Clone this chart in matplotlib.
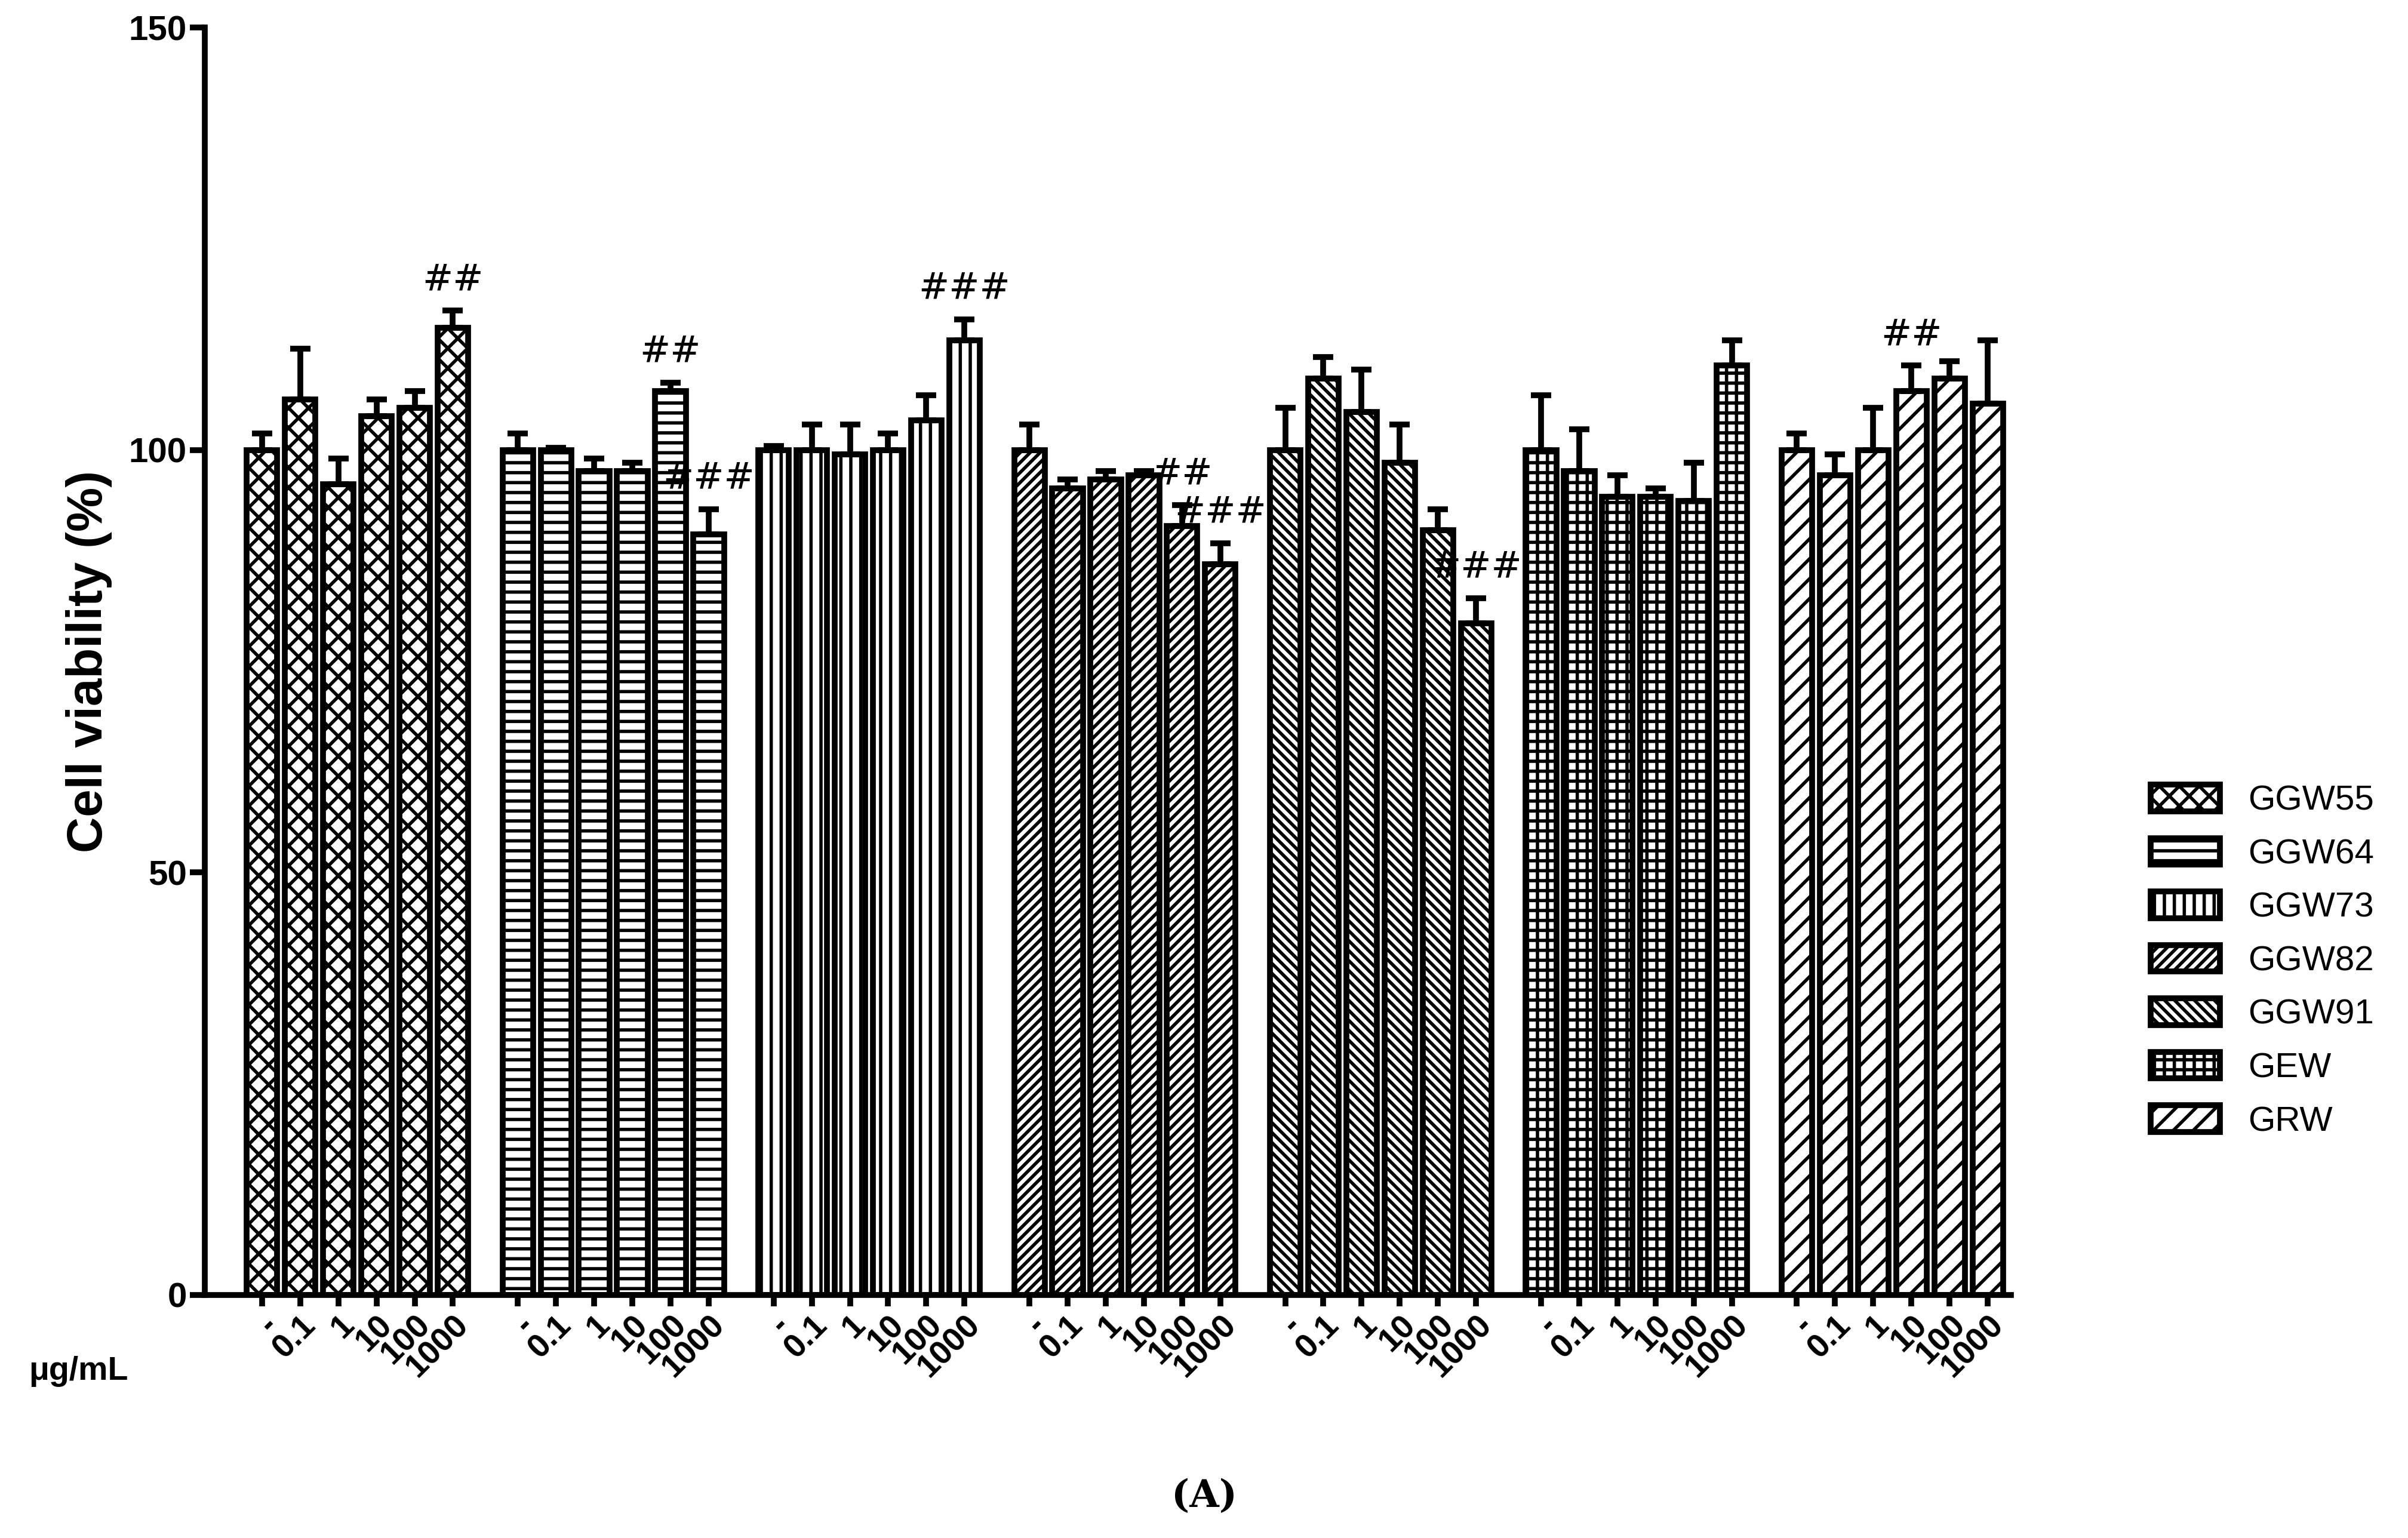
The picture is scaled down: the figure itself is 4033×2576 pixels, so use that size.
import matplotlib
matplotlib.use("Agg")
import matplotlib.pyplot as plt
from matplotlib.patches import Patch
import numpy as np

plt.rcParams['hatch.linewidth'] = 4
plt.rcParams['font.family'] = ['Liberation Sans', 'DejaVu Sans']
groups = ["GGW55", "GGW64", "GGW73", "GGW82", "GGW91", "GEW", "GRW"]
doses = ["-", "0.1", "1", "10", "100", "1000"]
means = {
    "GGW55": [100, 106, 96, 104, 105, 114.5],
    "GGW64": [100, 100, 97.5, 97.5, 107, 90],
    "GGW73": [100, 100, 99.5, 100, 103.5, 113],
    "GGW82": [100, 95.5, 96.5, 97, 91, 86.5],
    "GGW91": [100, 108.5, 104.5, 98.5, 90.5, 79.5],
    "GEW":   [100, 97.5, 94.5, 94.5, 94, 110],
    "GRW":   [100, 97, 100, 107, 108.5, 105.5],
}
errs = {
    "GGW55": [2, 6, 3, 2, 2, 2],
    "GGW64": [2, 0.3, 1.5, 1, 1, 3],
    "GGW73": [0.5, 3, 3.5, 2, 3, 2.5],
    "GGW82": [3, 1, 1, 0.5, 2.5, 2.5],
    "GGW91": [5, 2.5, 5, 4.5, 2.5, 3],
    "GEW":   [6.5, 5, 2.5, 1, 4.5, 3],
    "GRW":   [2, 2.5, 5, 3, 2, 7.5],
}
marks = {("GGW55", 5): "##", ("GGW64", 4): "##", ("GGW64", 5): "###",
         ("GGW73", 5): "###", ("GGW82", 4): "##", ("GGW82", 5): "###",
         ("GGW91", 5): "###", ("GRW", 3): "##"}
hatches = ["x", "-", "|", "//", "\\\\", "+", "/"]

fig = plt.figure(figsize=(40.33, 25.76), dpi=100)
ax = fig.add_axes([0.085, 0.158, 0.75, 0.824])
step = 6.7
lw = 7
xt, xl = [], []
for g, name in enumerate(groups):
    x = g * step + np.arange(6)
    ax.bar(x, means[name], width=0.8, facecolor="white", edgecolor="black",
           hatch=hatches[g], linewidth=lw, zorder=2)
    ax.errorbar(x, means[name], yerr=[np.zeros(6), errs[name]], fmt="none",
                ecolor="black", elinewidth=lw, capsize=12, capthick=lw, zorder=3)
    for i in range(6):
        if (name, i) in marks:
            ax.text(x[i], means[name][i] + errs[name][i] + 1.5, marks[(name, i)],
                    ha="center", va="bottom", fontsize=44, family="DejaVu Serif")
    xt += list(x); xl += doses
ax.set_xticks(xt)
ax.set_xticklabels(xl, rotation=45, ha="right", rotation_mode="anchor",
                   fontsize=40, fontweight="bold")
ax.set_xlim(-1.5, 6 * step + 5 + 0.6)
ax.set_ylim(0, 150)
ax.set_yticks([0, 50, 100, 150])
ax.tick_params(axis="y", labelsize=42, width=lw, length=18)
for t in ax.get_yticklabels():
    t.set_fontweight("bold")
ax.tick_params(axis="x", width=lw, length=14)
ax.spines["top"].set_visible(False)
ax.spines["right"].set_visible(False)
ax.spines["left"].set_linewidth(lw)
ax.spines["bottom"].set_linewidth(lw)
ax.set_ylabel("Cell viability (%)", fontsize=60, fontweight="bold", labelpad=20)
fig.text(0.012, 0.103, "μg/mL", fontsize=40, fontweight="bold")
fig.text(0.5, 0.02, "(A)", fontsize=46, family="DejaVu Serif", fontweight="bold", ha="center")

handles = [Patch(facecolor="white", edgecolor="black", hatch=h, linewidth=lw) for h in hatches]
fig.legend(handles, groups, loc="center left", bbox_to_anchor=(0.88, 0.375),
           frameon=False, fontsize=42, handlelength=2.0, handleheight=0.8,
           labelspacing=0.6)
fig.savefig("out.png", dpi=100)
